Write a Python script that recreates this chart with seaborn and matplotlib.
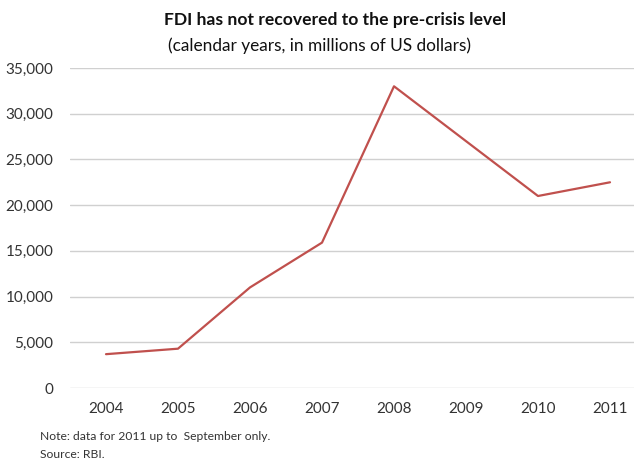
import pandas as pd
import seaborn as sns
import matplotlib.pyplot as plt

years = ["2004", "2005", "2006", "2007", "2008", "2009", "2010", "2011"]
fdi = [3700, 4300, 11000, 15900, 33000, 27000, 21000, 22500]
y_ticks = [0, 5000, 10000, 15000, 20000, 25000, 30000, 35000]

df = pd.DataFrame({"year": years, "fdi": fdi})

sns.set_style("white")
plt.rcParams['font.family'] = ['Lato', 'DejaVu Sans']

fig = plt.figure(figsize=(6.34, 4.59), dpi=100)
ax = fig.add_axes([70 / 634, 1 - 388 / 459, 576 / 634, 320 / 459])

sns.lineplot(data=df, x="year", y="fdi", sort=False, color="#c0504d", linewidth=1.6, ax=ax)

ax.set_ylim(0, 35000)
ax.set_xlim(-0.5, len(years) - 0.5)
ax.set_yticks(y_ticks)
ax.set_yticklabels([f"{v:,}" for v in y_ticks])
ax.yaxis.grid(True, color="#d0d0d0", linewidth=1)
ax.set_axisbelow(True)
for s in ax.spines.values():
    s.set_visible(False)
ax.tick_params(axis="both", length=0, labelsize=11, colors="#333333")
ax.tick_params(axis="x", pad=10)
ax.tick_params(axis="y", pad=12)
ax.set_xlabel("")
ax.set_ylabel("")

fig.text(335 / 634, 1 - 20 / 459, "FDI has not recovered to the pre-crisis level",
         ha="center", va="center", fontsize=12.6, fontweight="bold", color="#111111")
fig.text(320 / 634, 1 - 46 / 459, "(calendar years, in millions of US dollars)",
         ha="center", va="center", fontsize=12.4, color="#111111")
fig.text(40 / 634, 1 - 437 / 459, "Note: data for 2011 up to  September only.",
         ha="left", va="center", fontsize=8.7, color="#333333")
fig.text(40 / 634, 1 - 454 / 459, "Source: RBI.",
         ha="left", va="center", fontsize=8.7, color="#333333")

fig.savefig("out.png", dpi=100)
